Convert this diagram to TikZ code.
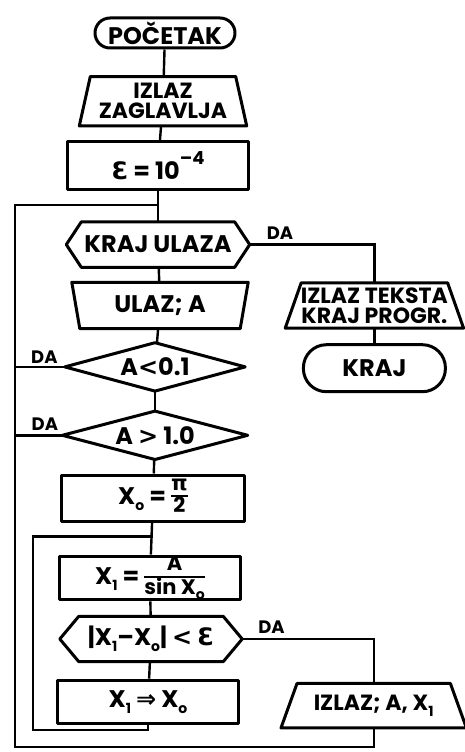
\documentclass[tikz,border=0pt]{standalone}
\usepackage{fontspec}
\usepackage{amsmath}
\setmainfont{Poppins}
\newfontfamily\glyphfont{DejaVu Sans}
\usetikzlibrary{positioning}

\newcommand{\flowfont}{\fontsize{24}{21}\selectfont\bfseries}
\newcommand{\pairfont}{\fontsize{22}{20}\selectfont\bfseries}
\newcommand{\lowix}[1]{\raisebox{-0.45ex}{\fontsize{14}{14}\selectfont #1}}
\newcommand{\epsi}{{\glyphfont\bfseries Ɛ}}
\newcommand{\rel}[1]{{\glyphfont\bfseries #1}}
\newcommand{\fracfont}{\fontsize{21}{19}\selectfont\bfseries}
% hand-set fraction that fits inside a box
\newcommand{\stackfrac}[2]{{\setlength{\arrayrulewidth}{1.8pt}%
  \renewcommand{\arraystretch}{0.8}%
  \begin{tabular}{@{}c@{}}\fracfont #1\\\hline\fracfont #2\end{tabular}}}

% outlines drawn round plain rectangle nodes
\newcommand{\outtrap}[2]{\draw[shapeline] (#1.south west) --
  ([xshift=#2]#1.north west) -- ([xshift=-#2]#1.north east) --
  (#1.south east) -- cycle;}
\newcommand{\intrap}[2]{\draw[shapeline] (#1.north west) --
  ([xshift=#2]#1.south west) -- ([xshift=-#2]#1.south east) --
  (#1.north east) -- cycle;}
\newcommand{\rhomb}[1]{\draw[shapeline] (#1.west) -- (#1.north) --
  (#1.east) -- (#1.south) -- cycle;}
\newcommand{\hexa}[2]{\draw[shapeline] (#1.west) --
  ([xshift=#2]#1.north west) -- ([xshift=-#2]#1.north east) --
  (#1.east) -- ([xshift=-#2]#1.south east) --
  ([xshift=#2]#1.south west) -- cycle;}

\tikzset{
  shapeline/.style={
    line width=3pt, line join=round
  },
  textbox/.style={
    shape=rectangle, minimum width=181pt, minimum height=46pt,
    inner sep=0pt, align=center, font=\flowfont
  },
  termbox/.style={
    textbox, draw, shapeline, rounded corners=#1,
    minimum width=140pt, minimum height=30pt
  },
  procbox/.style={
    textbox, draw, shapeline
  },
  dalabel/.style={
    font=\fontsize{18}{18}\selectfont\bfseries, inner sep=0pt
  },
  flowline/.style={
    line width=2.4pt
  },
}

\begin{document}
\begin{tikzpicture}[x=1pt, y=-1pt]
\useasboundingbox (0,0) rectangle (465,752);

% ---- Main column ----
\node[termbox=15pt] (start) at (165,33) {POČETAK};
\node[textbox, below=27pt of start, xshift=-2pt, minimum width=167pt,
  minimum height=49pt, font=\pairfont] (hdr) {IZLAZ\\ZAGLAVLJA};
\node[procbox, below=14pt of hdr, xshift=-5pt, minimum height=48pt] (eps)
  {\epsi{} = 10\raisebox{1.1ex}{\fontsize{18}{18}\selectfont –4}};
\node[textbox, below=31pt of eps, minimum width=183pt,
  minimum height=45pt] (kraju) {KRAJ ULAZA};
\node[textbox, below=15pt of kraju, xshift=2pt, minimum width=176pt]
  (ulaz) {ULAZ; A};
\node[textbox, below=14pt of ulaz, xshift=-5pt, minimum width=180pt,
  minimum height=48pt] (lt) {A\rel{<}0.1};
\node[textbox, below=20pt of lt, minimum width=185pt, minimum height=48pt]
  (gt) {A \rel{>} 1.0};
\node[procbox, below=14pt of gt, xshift=-2pt, minimum width=183pt] (xo)
  {X\lowix{o} = \stackfrac{\glyphfont π}{2}};
\node[procbox, below=32pt of xo, xshift=-3pt, minimum height=43pt] (xone)
  {X\lowix{1} = \stackfrac{A}{sin X\lowix{o}}};
\node[textbox, below=15pt of xone, xshift=1pt, minimum width=182pt,
  minimum height=45pt] (conv) {|X\lowix{1}–X\lowix{o}| \rel{<} \epsi};
\node[procbox, below=17pt of conv, xshift=-3pt, minimum height=43pt]
  (assign) {X\lowix{1} \rel{⇒} X\lowix{o}};

% ---- Right column ----
\node[textbox, right=37pt of ulaz, minimum width=178pt,
  minimum height=45pt, font=\pairfont] (tekst)
  {IZLAZ TEKSTA\\KRAJ PROGR.};
\node[termbox=23pt, below=15pt of tekst, minimum width=142pt,
  minimum height=47pt] (kraj) {KRAJ};
\node[textbox, right=41pt of assign, yshift=-4pt, minimum width=185pt,
  minimum height=44pt, font=\pairfont] (izlazax) {IZLAZ; A, X\lowix{1}};

% ---- Outlines ----
\outtrap{hdr}{11pt}
\hexa{kraju}{15pt}
\intrap{ulaz}{8pt}
\rhomb{lt}
\rhomb{gt}
\hexa{conv}{19pt}
\outtrap{tekst}{16pt}
\outtrap{izlazax}{16pt}

% ---- Loop junctions ----
\coordinate[below=14pt of eps] (jtop);
\coordinate[below=14pt of xo] (jin);
\coordinate (loopL) at (15,200);
\coordinate (loopB) at (15,747);
\coordinate (loopiB) at (33,730);

% ---- DA labels ----
\node[dalabel, above right=5pt and 17pt of kraju.east] (dakraj) {DA};
\node[dalabel, above left=3pt and 7pt of lt.west] (dalt) {DA};
\node[dalabel, above left=5pt and 4pt of gt.west] (dagt) {DA};
\node[dalabel, above right=5pt and 16pt of conv.east] (daconv) {DA};

% ---- Connectors ----
\draw[flowline] (start) -- (hdr);
\draw[flowline] (hdr) -- (eps);
\draw[flowline] (eps) -- (kraju);
\draw[flowline] (kraju) -- (ulaz);
\draw[flowline] (ulaz) -- (lt);
\draw[flowline] (lt) -- (gt);
\draw[flowline] (gt) -- (xo);
\draw[flowline] (xo) -- (xone);
\draw[flowline] (xone) -- (conv);
\draw[flowline] (conv) -- (assign);

% yes branches
\draw[flowline] (kraju.east) -| (tekst.north);
\draw[flowline] (tekst) -- (kraj);
\draw[flowline] (conv.east) -| (izlazax.north);
\draw[flowline] (lt.west) -- (lt.west -| loopL);
\draw[flowline] (gt.west) -- (gt.west -| loopL);

% outer loop back to KRAJ ULAZA
\draw[flowline] (izlazax.south) |- (loopB) |- (jtop);

% inner iteration loop
\draw[flowline] (assign.south) |- (loopiB) |- (jin);

\end{tikzpicture}
\end{document}
